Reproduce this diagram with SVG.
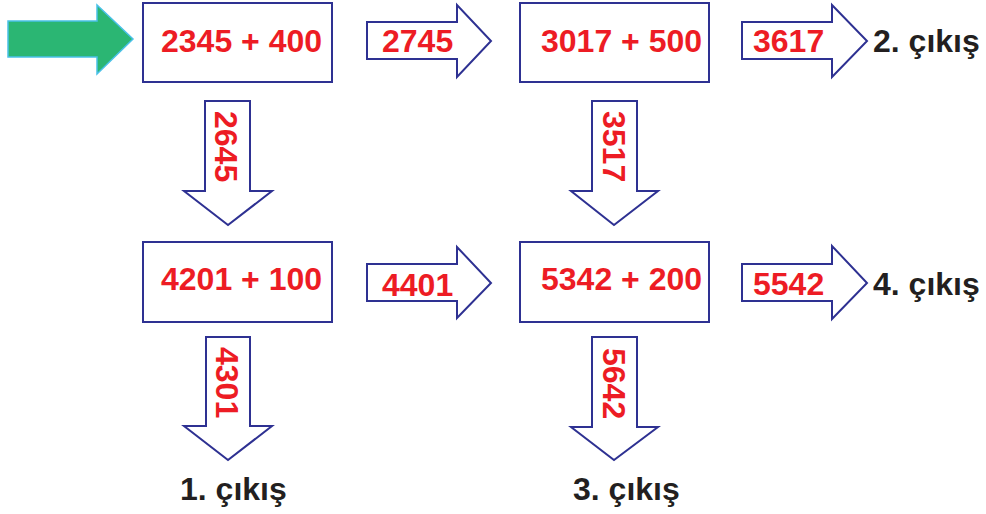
<svg xmlns="http://www.w3.org/2000/svg" width="986" height="514" viewBox="0 0 986 514">
<style>
.box{fill:#fff;stroke:#2e3192;stroke-width:2}
.arr{fill:#fff;stroke:#2e3192;stroke-width:2;stroke-linejoin:miter}
.num{font-family:"Liberation Sans",Arial,sans-serif;font-weight:bold;font-size:32px;fill:#ed1c24}
.out{font-family:"Liberation Sans",Arial,sans-serif;font-weight:bold;font-size:32px;fill:#231f20}
</style>
<rect width="986" height="514" fill="#fff"/>
<g id="start">
<polygon points="8,21 97,21 97,5 133,39 97,74 97,57 8,57" fill="#2bb673" stroke="#4ac1e8" stroke-width="1.5"/>
</g>
<g id="n1"><rect class="box" x="143" y="3" width="189" height="79"/><text class="num" x="161" y="52">2345 + 400</text></g>
<g id="n2"><rect class="box" x="520" y="3" width="189" height="79"/><text class="num" x="541" y="52">3017 + 500</text></g>
<g id="n3"><rect class="box" x="143" y="242" width="189" height="80"/><text class="num" x="161" y="290">4201 + 100</text></g>
<g id="n4"><rect class="box" x="520" y="242" width="189" height="80"/><text class="num" x="541" y="290">5342 + 200</text></g>
<g id="connectors">
<g id="a2745"><polygon class="arr" points="367,22 457,22 457,5 491,41 457,77 457,59 367,59"/><text class="num" x="382" y="52">2745</text></g>
<g id="a3617"><polygon class="arr" points="742,22 832,22 832,5 867,41 832,77 832,59 742,59"/><text class="num" x="753" y="52">3617</text></g>
<g id="a4401"><polygon class="arr" points="367,264 457,264 457,247 491,283 457,318 457,301 367,301"/><text class="num" x="382" y="296">4401</text></g>
<g id="a5542"><polygon class="arr" points="742,264 832,264 832,246 867,283 832,319 832,301 742,301"/><text class="num" x="753" y="295">5542</text></g>
<g id="a2645"><polygon class="arr" points="205,101 250,101 250,191 272,191 228,225 184,191 205,191"/><text class="num" transform="translate(215,111) rotate(90)">2645</text></g>
<g id="a3517"><polygon class="arr" points="592,101 637,101 637,191 658,191 614,225 571,191 592,191"/><text class="num" transform="translate(603,111) rotate(90)">3517</text></g>
<g id="a4301"><polygon class="arr" points="206,337 250,337 250,426 272,426 228,460 184,426 206,426"/><text class="num" transform="translate(216,347) rotate(90)">4301</text></g>
<g id="a5642"><polygon class="arr" points="592,337 637,337 637,427 658,427 614,460 571,427 592,427"/><text class="num" transform="translate(603,348) rotate(90)">5642</text></g>
</g>
<g id="outputs">
<text class="out" x="873" y="52">2. çıkış</text>
<text class="out" x="873" y="295">4. çıkış</text>
<text class="out" x="180" y="500">1. çıkış</text>
<text class="out" x="573" y="500">3. çıkış</text>
</g>
</svg>
